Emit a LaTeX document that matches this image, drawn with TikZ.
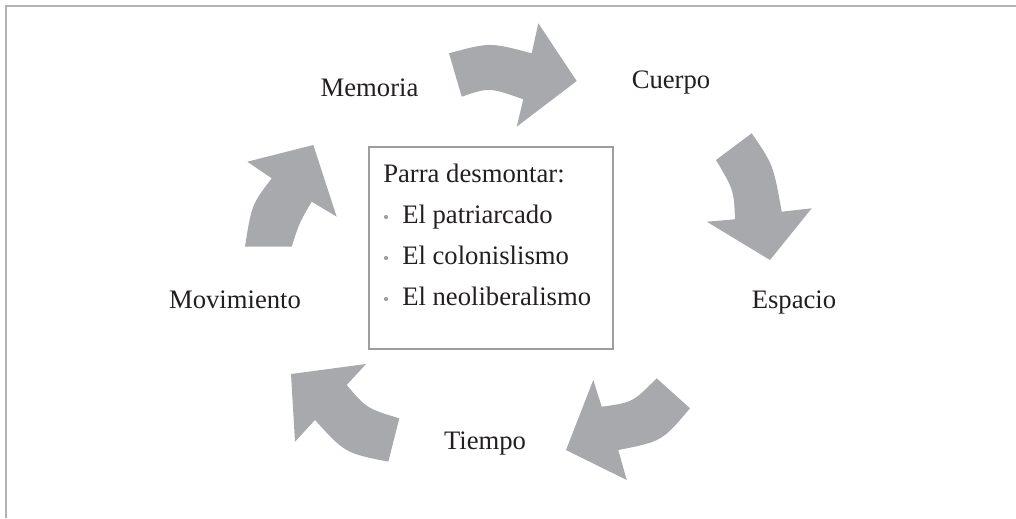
\documentclass[tikz,border=0pt]{standalone}
\usepackage{fontspec}
\setmainfont{Liberation Serif}
\definecolor{arrowgray}{HTML}{A7A9AC}
\definecolor{framegray}{HTML}{B3B3B3}
\definecolor{boxgray}{HTML}{9D9D9D}
\definecolor{txt}{HTML}{231F20}
\definecolor{bul}{HTML}{A0A0A0}
\tikzset{
  cyclearrow/.style={fill=arrowgray, draw=none},
  lbl/.style={anchor=base, inner sep=0pt, text=txt, font=\fontsize{20}{24}\selectfont},
  boxline/.style={anchor=base west, inner sep=0pt, text=txt, font=\fontsize{20}{24}\selectfont},
  framebox/.style={draw=boxgray, line width=1.1pt, minimum width=183pt, minimum height=151.5pt, inner sep=0pt},
  frameline/.style={draw=framegray, line width=1.5pt},
  bulletdot/.style={fill=bul}
}
\begin{document}
\begin{tikzpicture}[x=0.75pt,y=-0.75pt]
\useasboundingbox (0,0) rectangle (1016,518);
% outer frame (top and left)
\coordinate (fr) at (1016,5.5);
\coordinate (fc) at (5.5,5.5);
\coordinate (fb) at (5.5,518);
\draw[frameline] (fr) -- (fc) -- (fb);

% centre box
\node[framebox] (box) at (491,248) {};
\node[boxline] (l0) at (383,182) {Parra desmontar:};
\node[boxline] (l1) at (402,223) {El patriarcado};
\node[boxline] (l2) at (402,264) {El colonislismo};
\node[boxline] (l3) at (402,305) {El neoliberalismo};
\fill[bulletdot] (386,217) circle (2.1);
\fill[bulletdot] (386,258) circle (2.1);
\fill[bulletdot] (386,299) circle (2.1);

% labels
\node[lbl] (mem) at (369.5,96) {Memoria};
\node[lbl] (cue) at (671,88) {Cuerpo};
\node[lbl] (esp) at (794,308) {Espacio};
\node[lbl] (tie) at (485,449) {Tiempo};
\node[lbl] (mov) at (235,308) {Movimiento};

% arrow 1: Memoria -> Cuerpo
\fill[cyclearrow] (449,53.3) .. controls (489.9,42.2) .. (531.7,53.3)
  -- (538.3,23.3) -- (576.7,81) -- (516.7,126.7) -- (523.3,99.3)
  .. controls (489.2,87.3) .. (461.7,96.7) -- cycle;
% arrow 2: Cuerpo -> Espacio
\fill[cyclearrow] (751.7,133.3) -- (716,160) .. controls (733.8,190.1) .. (735,219.3)
  -- (706.7,221.7) -- (770,260) -- (811.7,208.3) -- (781.7,211.7)
  .. controls (773.3,164.8) .. (751.7,133.3) -- cycle;
% arrow 3: Espacio -> Tiempo
\fill[cyclearrow] (656.7,378.3) -- (690,408.3) .. controls (661.95,441.35) .. (618.3,450)
  -- (626.7,480) -- (566,450) -- (593.3,380) -- (601.7,406.7)
  .. controls (632.5,402.5) .. (656.7,378.3) -- cycle;
% arrow 4: Tiempo -> Movimiento
\fill[cyclearrow] (388.3,461.7) -- (399.3,418.3) .. controls (366.7,408.4) .. (346.7,385)
  -- (366,364) -- (291,374) -- (295,441.7) -- (315,420)
  .. controls (345.05,453.05) .. (388.3,461.7) -- cycle;
% arrow 5: Movimiento -> Memoria
\fill[cyclearrow] (245,246.7) -- (291.7,246.7) .. controls (299.4,222.6) .. (311.7,201.7)
  -- (336.7,216.7) -- (313.3,145) -- (247.3,161.7) -- (271.7,178.3)
  .. controls (251.6,204.8) .. (245,246.7) -- cycle;
\end{tikzpicture}
\end{document}
